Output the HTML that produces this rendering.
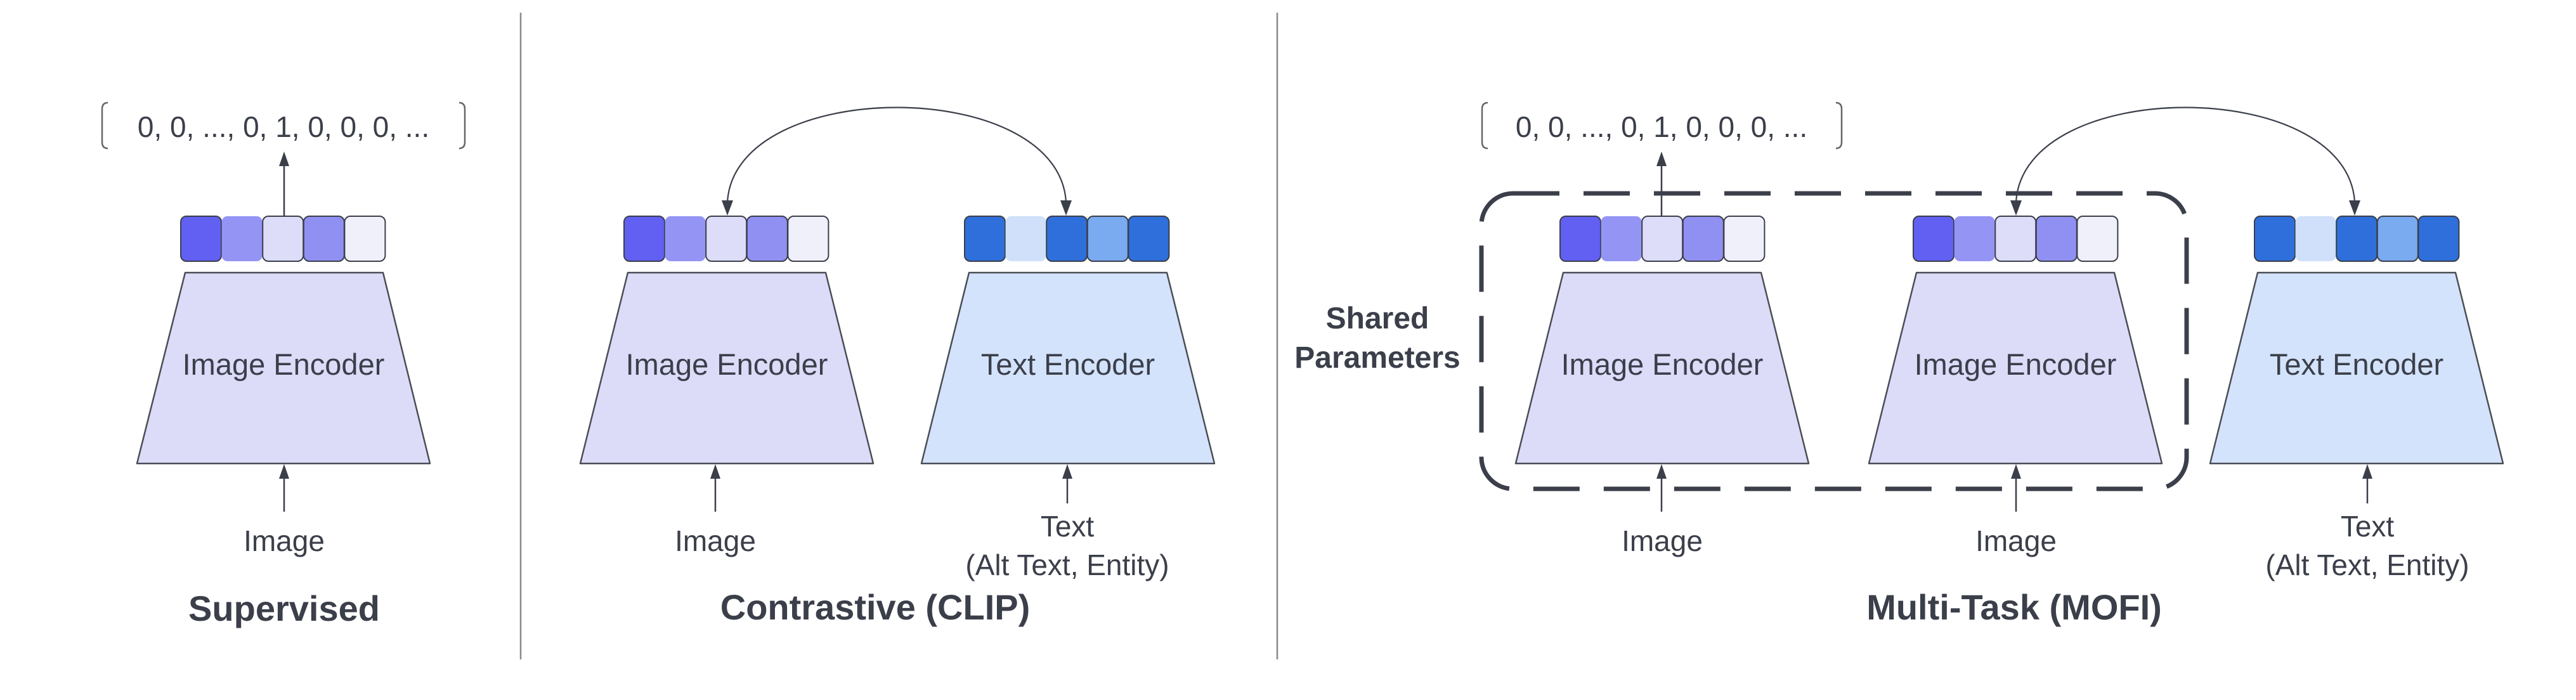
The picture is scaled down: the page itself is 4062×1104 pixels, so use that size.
<!DOCTYPE html>
<html><head><meta charset="utf-8"><style>
html,body{margin:0;padding:0;background:#fff;}
svg{display:block;}
text{font-family:"Liberation Sans",Arial,sans-serif;fill:#3b3f4a;}
</style></head><body>
<svg width="4062" height="1104" viewBox="0 0 4062 1104" xmlns="http://www.w3.org/2000/svg">
<rect width="4062" height="1104" fill="#fff"/>
<!-- dividers -->
<line x1="821" y1="20" x2="821" y2="1040" stroke="#8a8a8a" stroke-width="2.5"/>
<line x1="2014" y1="20" x2="2014" y2="1040" stroke="#8a8a8a" stroke-width="2.5"/>

<!-- brackets -->
<g fill="none" stroke="#666" stroke-width="2.5">
<path d="M170,162 Q161,162 161,172 V224 Q161,234 170,234"/>
<path d="M724,162 Q733,162 733,172 V224 Q733,234 724,234"/>
<path d="M2346,162 Q2337,162 2337,172 V224 Q2337,234 2346,234"/>
<path d="M2895,162 Q2904,162 2904,172 V224 Q2904,234 2895,234"/>
</g>
<text x="447" y="216" font-size="46" text-anchor="middle">0, 0, ..., 0, 1, 0, 0, 0, ...</text>
<text x="2620" y="216" font-size="46" text-anchor="middle">0, 0, ..., 0, 1, 0, 0, 0, ...</text>

<!-- dashed shared box -->
<rect x="2336" y="305" width="1112" height="466" rx="50" fill="none" stroke="#3b3f4a" stroke-width="7" stroke-dasharray="73 38"/>

<!-- trapezoids -->
<g stroke="#4a4d55" stroke-width="2.5" stroke-linejoin="round">
<path d="M292,430 H604 L678,731 H216 Z" fill="#dcdcf9"/>
<path d="M990,430 H1302 L1377,731 H915 Z" fill="#dcdcf9"/>
<path d="M1528,430 H1840 L1915,731 H1453 Z" fill="#d3e3fb"/>
<path d="M2465,430 H2777 L2852,731 H2390 Z" fill="#dcdcf9"/>
<path d="M3022,430 H3334 L3409,731 H2947 Z" fill="#dcdcf9"/>
<path d="M3560,430 H3872 L3947,731 H3485 Z" fill="#d3e3fb"/>
</g>
<g font-size="47" text-anchor="middle">
<text x="447" y="591">Image Encoder</text>
<text x="1146" y="591">Image Encoder</text>
<text x="1684" y="591">Text Encoder</text>
<text x="2621" y="591">Image Encoder</text>
<text x="3178" y="591">Image Encoder</text>
<text x="3716" y="591">Text Encoder</text>
</g>

<!-- squares -->
<g stroke="#3b3f4a" stroke-width="2">
<!-- sup -->
<rect x="285" y="341" width="64" height="71" rx="9" fill="#6160f2"/>
<rect x="349.6" y="341" width="64" height="71" rx="9" fill="#9494f5" stroke="none"/>
<rect x="414.2" y="341" width="64" height="71" rx="9" fill="#dddcf9"/>
<rect x="478.8" y="341" width="64" height="71" rx="9" fill="#9090f3"/>
<rect x="543.4" y="341" width="64" height="71" rx="9" fill="#f0f0fb"/>
<!-- clip img -->
<rect x="984" y="341" width="64" height="71" rx="9" fill="#6160f2"/>
<rect x="1048.6" y="341" width="64" height="71" rx="9" fill="#9494f5" stroke="none"/>
<rect x="1113.2" y="341" width="64" height="71" rx="9" fill="#dddcf9"/>
<rect x="1177.8" y="341" width="64" height="71" rx="9" fill="#9090f3"/>
<rect x="1242.4" y="341" width="64" height="71" rx="9" fill="#f0f0fb"/>
<!-- clip text -->
<rect x="1521" y="341" width="64" height="71" rx="9" fill="#2f6fdb"/>
<rect x="1585.6" y="341" width="64" height="71" rx="9" fill="#d0e0fa" stroke="none"/>
<rect x="1650.2" y="341" width="64" height="71" rx="9" fill="#2f6fdb"/>
<rect x="1714.8" y="341" width="64" height="71" rx="9" fill="#7aaaf0"/>
<rect x="1779.4" y="341" width="64" height="71" rx="9" fill="#2f6fdb"/>
<!-- multi img1 -->
<rect x="2460" y="341" width="64" height="71" rx="9" fill="#6160f2"/>
<rect x="2524.6" y="341" width="64" height="71" rx="9" fill="#9494f5" stroke="none"/>
<rect x="2589.2" y="341" width="64" height="71" rx="9" fill="#dddcf9"/>
<rect x="2653.8" y="341" width="64" height="71" rx="9" fill="#9090f3"/>
<rect x="2718.4" y="341" width="64" height="71" rx="9" fill="#f0f0fb"/>
<!-- multi img2 -->
<rect x="3017" y="341" width="64" height="71" rx="9" fill="#6160f2"/>
<rect x="3081.6" y="341" width="64" height="71" rx="9" fill="#9494f5" stroke="none"/>
<rect x="3146.2" y="341" width="64" height="71" rx="9" fill="#dddcf9"/>
<rect x="3210.8" y="341" width="64" height="71" rx="9" fill="#9090f3"/>
<rect x="3275.4" y="341" width="64" height="71" rx="9" fill="#f0f0fb"/>
<!-- multi text -->
<rect x="3555" y="341" width="64" height="71" rx="9" fill="#2f6fdb"/>
<rect x="3619.6" y="341" width="64" height="71" rx="9" fill="#d0e0fa" stroke="none"/>
<rect x="3684.2" y="341" width="64" height="71" rx="9" fill="#2f6fdb"/>
<rect x="3748.8" y="341" width="64" height="71" rx="9" fill="#7aaaf0"/>
<rect x="3813.4" y="341" width="64" height="71" rx="9" fill="#2f6fdb"/>
</g>

<!-- straight arrows -->
<g stroke="#3b3f4a" stroke-width="2.5">
<line x1="448" y1="341" x2="448" y2="258"/>
<line x1="2620" y1="341" x2="2620" y2="258"/>
<line x1="448" y1="807" x2="448" y2="750"/>
<line x1="1128" y1="807" x2="1128" y2="750"/>
<line x1="1683" y1="794" x2="1683" y2="750"/>
<line x1="2620" y1="807" x2="2620" y2="750"/>
<line x1="3179" y1="807" x2="3179" y2="750"/>
<line x1="3733" y1="794" x2="3733" y2="750"/>
</g>
<g fill="#3b3f4a">
<path d="M448,239 L440,262 H456 Z"/>
<path d="M2620,239 L2612,262 H2628 Z"/>
<path d="M448,732 L440,755 H456 Z"/>
<path d="M1128,732 L1120,755 H1136 Z"/>
<path d="M1683,732 L1675,755 H1691 Z"/>
<path d="M2620,732 L2612,755 H2628 Z"/>
<path d="M3179,732 L3171,755 H3187 Z"/>
<path d="M3733,732 L3725,755 H3741 Z"/>
</g>

<!-- curved arrows -->
<g fill="none" stroke="#3b3f4a" stroke-width="2.2">
<path d="M1147,318 C1160,120 1668,120 1681,318"/>
<path d="M3179,318 C3192,120 3700,120 3713,318"/>
</g>
<g fill="#3b3f4a">
<path d="M1147,340 L1138,316 H1156 Z"/>
<path d="M1681,340 L1672,316 H1690 Z"/>
<path d="M3179,340 L3170,316 H3188 Z"/>
<path d="M3713,340 L3704,316 H3722 Z"/>
</g>

<!-- labels -->
<g font-size="46" text-anchor="middle">
<text x="448" y="869">Image</text>
<text x="1128" y="869">Image</text>
<text x="1683" y="846">Text</text>
<text x="1683" y="907">(Alt Text, Entity)</text>
<text x="2621" y="869">Image</text>
<text x="3179" y="869">Image</text>
<text x="3733" y="846">Text</text>
<text x="3733" y="907">(Alt Text, Entity)</text>
</g>
<g font-weight="bold" text-anchor="middle">
<text x="2172" y="518" font-size="48">Shared</text>
<text x="2172" y="580" font-size="48">Parameters</text>
<text x="448" y="979" font-size="56">Supervised</text>
<text x="1380" y="977" font-size="56">Contrastive (CLIP)</text>
<text x="3176" y="977" font-size="56">Multi-Task (MOFI)</text>
</g>
</svg>
</body></html>
